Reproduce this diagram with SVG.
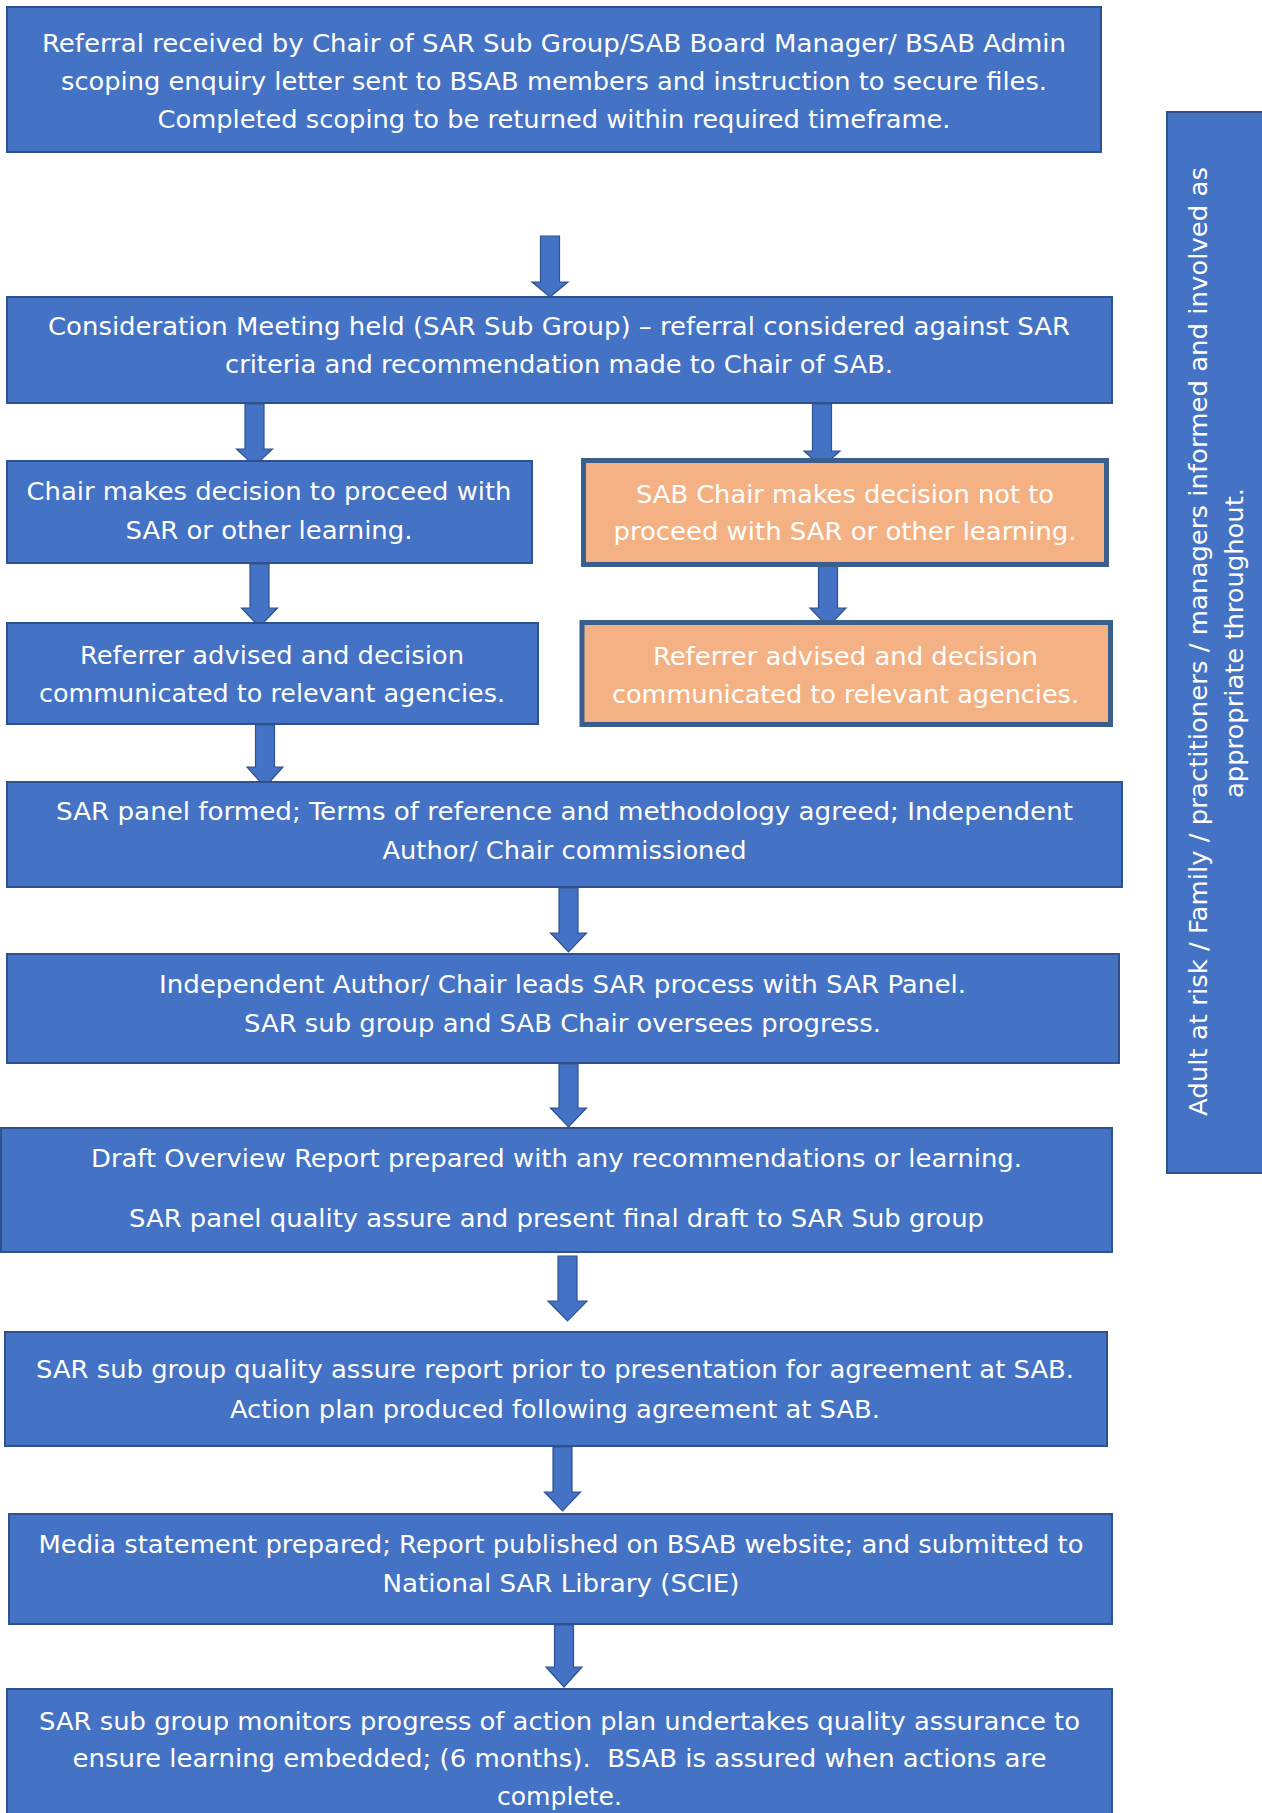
<svg xmlns="http://www.w3.org/2000/svg" width="1262" height="1813" viewBox="0 0 1262 1813">
<style>
.b{fill:#4472C4;stroke:#2F528F;stroke-width:2}
.o{fill:#F4B183;stroke:#3A5F8E;stroke-width:5}
.t{font-family:"DejaVu Sans Condensed","DejaVu Sans",sans-serif;font-size:25px;fill:#FFFFFF;text-anchor:middle}
.s{font-family:"DejaVu Sans",Verdana,sans-serif;font-size:24px;fill:#FFFFFF;text-anchor:middle}
.a{fill:#4472C4;stroke:#2F528F;stroke-width:1.2;stroke-linejoin:miter}
</style>
<rect width="1262" height="1813" fill="#FFFFFF"/>
<g id="connectors">
<path class="a" d="M540.5,236 H559.5 V282 H568 L550,297 L532,282 H540.5 Z"/>
<path class="a" d="M245,404 H264 V449 H272.5 L254.5,466 L236.5,449 H245 Z"/>
<path class="a" d="M812.5,404 H831.5 V451 H840 L822,467 L804,451 H812.5 Z"/>
<path class="a" d="M250,564 H269 V608 H277.5 L259.5,627 L241.5,608 H250 Z"/>
<path class="a" d="M818.5,566 H837.5 V608 H846 L828,627 L810,608 H818.5 Z"/>
<path class="a" d="M255.5,725 H274.5 V767 H283 L265,787 L247,767 H255.5 Z"/>
<path class="a" d="M559,888 H578 V933 H586.5 L568.5,952 L550.5,933 H559 Z"/>
<path class="a" d="M559,1064 H578 V1108 H586.5 L568.5,1127 L550.5,1108 H559 Z"/>
<path class="a" d="M558,1256 H577 V1301 H587 L567.5,1321 L548,1301 H558 Z"/>
<path class="a" d="M553,1447 H572 V1492 H580.5 L562.5,1511 L544.5,1492 H553 Z"/>
<path class="a" d="M554.5,1625 H573.5 V1667 H582 L564,1687 L546,1667 H554.5 Z"/>
</g>
<g id="n1">
<rect class="b" x="7" y="7" width="1094" height="145"/>
<text class="t" x="554" y="52" textLength="1024" lengthAdjust="spacingAndGlyphs">Referral received by Chair of SAR Sub Group/SAB Board Manager/ BSAB Admin</text>
<text class="t" x="554" y="90" textLength="986" lengthAdjust="spacingAndGlyphs">scoping enquiry letter sent to BSAB members and instruction to secure files.</text>
<text class="t" x="554" y="128" textLength="793" lengthAdjust="spacingAndGlyphs">Completed scoping to be returned within required timeframe.</text>
</g>
<g id="n2">
<rect class="b" x="7" y="297" width="1105" height="106"/>
<text class="t" x="559" y="335" textLength="1022" lengthAdjust="spacingAndGlyphs">Consideration Meeting held (SAR Sub Group) – referral considered against SAR</text>
<text class="t" x="559" y="373" textLength="668" lengthAdjust="spacingAndGlyphs">criteria and recommendation made to Chair of SAB.</text>
</g>
<g id="n3">
<rect class="b" x="7" y="461" width="525" height="102"/>
<text class="t" x="269" y="500" textLength="485" lengthAdjust="spacingAndGlyphs">Chair makes decision to proceed with</text>
<text class="t" x="269" y="539" textLength="287" lengthAdjust="spacingAndGlyphs">SAR or other learning.</text>
</g>
<g id="n4">
<rect class="o" x="583.5" y="460.5" width="523" height="104"/>
<text class="t" x="845" y="503" textLength="418" lengthAdjust="spacingAndGlyphs">SAB Chair makes decision not to</text>
<text class="t" x="845" y="540" textLength="463" lengthAdjust="spacingAndGlyphs">proceed with SAR or other learning.</text>
</g>
<g id="n5">
<rect class="b" x="7" y="623" width="531" height="101"/>
<text class="t" x="272" y="664" textLength="384" lengthAdjust="spacingAndGlyphs">Referrer advised and decision</text>
<text class="t" x="272" y="702" textLength="466" lengthAdjust="spacingAndGlyphs">communicated to relevant agencies.</text>
</g>
<g id="n6">
<rect class="o" x="582" y="622.5" width="528.5" height="102"/>
<text class="t" x="845.5" y="665" textLength="385" lengthAdjust="spacingAndGlyphs">Referrer advised and decision</text>
<text class="t" x="845.5" y="703" textLength="467" lengthAdjust="spacingAndGlyphs">communicated to relevant agencies.</text>
</g>
<g id="n7">
<rect class="b" x="7" y="782" width="1115" height="105"/>
<text class="t" x="564.5" y="820" textLength="1017" lengthAdjust="spacingAndGlyphs">SAR panel formed; Terms of reference and methodology agreed; Independent</text>
<text class="t" x="564.5" y="859" textLength="364" lengthAdjust="spacingAndGlyphs">Author/ Chair commissioned</text>
</g>
<g id="n8">
<rect class="b" x="7" y="954" width="1112" height="109"/>
<text class="t" x="562.5" y="993" textLength="807" lengthAdjust="spacingAndGlyphs">Independent Author/ Chair leads SAR process with SAR Panel.</text>
<text class="t" x="562.5" y="1032" textLength="637" lengthAdjust="spacingAndGlyphs">SAR sub group and SAB Chair oversees progress.</text>
</g>
<g id="n9">
<rect class="b" x="1" y="1128" width="1111" height="124"/>
<text class="t" x="556.5" y="1167" textLength="931" lengthAdjust="spacingAndGlyphs">Draft Overview Report prepared with any recommendations or learning.</text>
<text class="t" x="556.5" y="1227" textLength="855" lengthAdjust="spacingAndGlyphs">SAR panel quality assure and present final draft to SAR Sub group</text>
</g>
<g id="n10">
<rect class="b" x="5" y="1332" width="1102" height="114"/>
<text class="t" x="555" y="1378" textLength="1038" lengthAdjust="spacingAndGlyphs">SAR sub group quality assure report prior to presentation for agreement at SAB.</text>
<text class="t" x="555" y="1418" textLength="650" lengthAdjust="spacingAndGlyphs">Action plan produced following agreement at SAB.</text>
</g>
<g id="n11">
<rect class="b" x="9" y="1514" width="1103" height="110"/>
<text class="t" x="561" y="1553" textLength="1045" lengthAdjust="spacingAndGlyphs">Media statement prepared; Report published on BSAB website; and submitted to</text>
<text class="t" x="561" y="1592" textLength="357" lengthAdjust="spacingAndGlyphs">National SAR Library (SCIE)</text>
</g>
<g id="n12">
<rect class="b" x="7" y="1689" width="1105" height="140"/>
<text class="t" x="559.5" y="1730" textLength="1041" lengthAdjust="spacingAndGlyphs">SAR sub group monitors progress of action plan undertakes quality assurance to</text>
<text class="t" x="559.5" y="1767" textLength="974" lengthAdjust="spacingAndGlyphs">ensure learning embedded; (6 months).&#160; BSAB is assured when actions are</text>
<text class="t" x="559.5" y="1805" textLength="125" lengthAdjust="spacingAndGlyphs">complete.</text>
</g>
<g id="side">
<rect class="b" x="1167" y="112" width="110" height="1061"/>
<text class="s" transform="translate(1207,641.5) rotate(-90)" textLength="949" lengthAdjust="spacingAndGlyphs">Adult at risk / Family / practitioners / managers informed and involved as</text>
<text class="s" transform="translate(1243,643) rotate(-90)" textLength="310" lengthAdjust="spacingAndGlyphs">appropriate throughout.</text>
</g>
</svg>
